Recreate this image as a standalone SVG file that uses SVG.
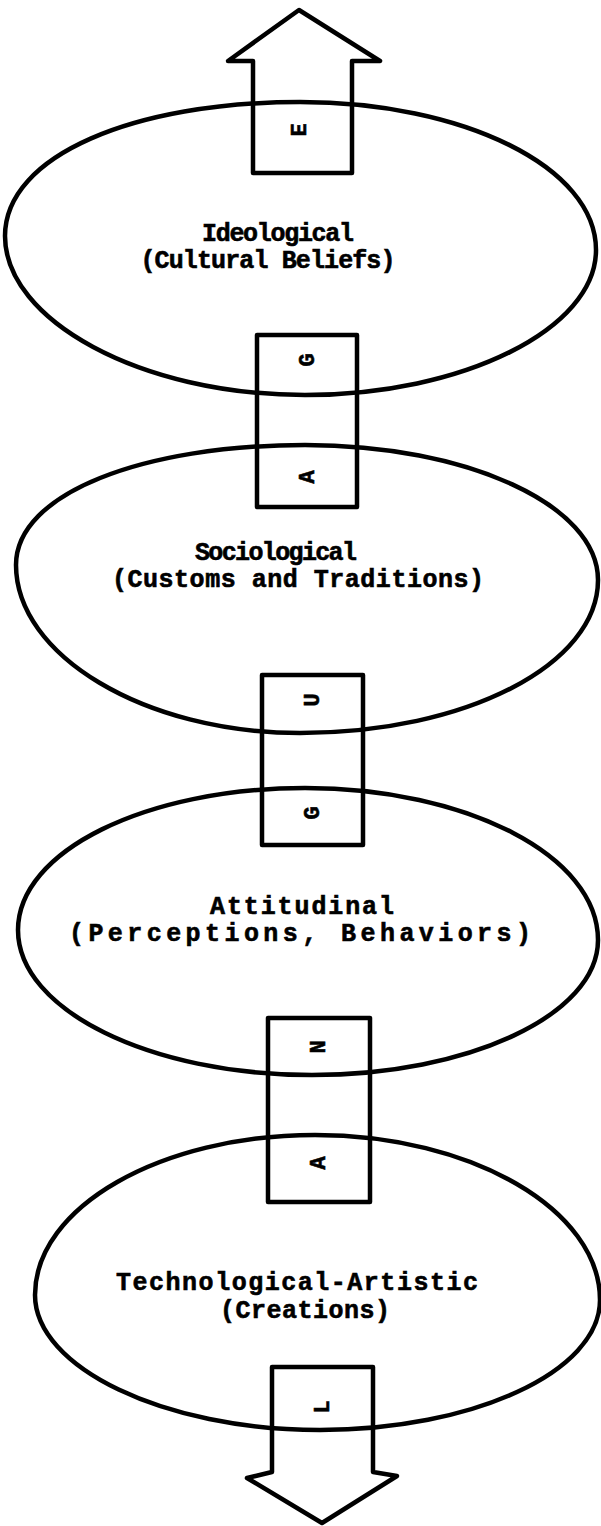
<svg xmlns="http://www.w3.org/2000/svg" width="601" height="1526" viewBox="0 0 601 1526">
<style>
.ln{fill:none;stroke:#000;stroke-width:4.5;stroke-linejoin:round;stroke-linecap:round}
.t{font-family:"Liberation Mono","DejaVu Sans Mono",monospace;font-weight:bold;font-size:25px;text-anchor:middle;fill:#000;stroke:#000;stroke-width:0.6}
.l{font-family:"Liberation Mono","DejaVu Sans Mono",monospace;font-weight:bold;font-size:22px;text-anchor:middle;fill:#000;stroke:#000;stroke-width:0.6}
</style>
<rect width="601" height="1526" fill="#fff"/>
<g id="connectors">
<path id="arrow-top" class="ln" d="M253,173 L253,61 L228,61 L299,10 L380,61 L352,61 L352,173 Z"/>
<rect id="box-ga" class="ln" x="257" y="335" width="100" height="172"/>
<rect id="box-ug" class="ln" x="262" y="675" width="101" height="170"/>
<rect id="box-na" class="ln" x="268" y="1018" width="102" height="184"/>
<path id="arrow-bottom" class="ln" d="M272,1367 L373,1367 L373,1472 L397,1476 L322,1523 L247,1478 L272,1472 Z"/>
</g>
<g id="node-ideological">
<path class="ln" d="M300,102 C463,102 596,167 596,250 C596,329 463,395 305,395 C140,395 5,320 5,236 C5,155 135,102 300,102 Z"/>
<text class="t" x="278" y="241" textLength="152" lengthAdjust="spacing">Ideological</text>
<text class="t" x="268" y="268" textLength="255" lengthAdjust="spacing">(Cultural Beliefs)</text>
</g>
<g id="node-sociological">
<path class="ln" d="M305,445 C467,445 598,505 598,580 C598,664 467,733 300,733 C144,733 16,655 16,565 C16,493 144,445 305,445 Z"/>
<text class="t" x="276" y="560" textLength="162" lengthAdjust="spacing">Sociological</text>
<text class="t" x="298" y="587" textLength="372" lengthAdjust="spacing">(Customs and Traditions)</text>
</g>
<g id="node-attitudinal">
<path class="ln" d="M305,788 C467,788 598,856 598,940 C598,1015 468,1075 312,1075 C150,1075 18,1010 18,930 C18,851 146,788 305,788 Z"/>
<text class="t" x="302" y="914" textLength="184" lengthAdjust="spacing">Attitudinal</text>
<text class="t" x="300" y="941" textLength="462" lengthAdjust="spacing">(Perceptions, Behaviors)</text>
</g>
<g id="node-technological">
<path class="ln" d="M315,1135 C472,1135 600,1210 600,1300 C600,1372 472,1430 320,1430 C163,1430 35,1367 35,1295 C35,1207 161,1135 315,1135 Z"/>
<text class="t" x="297" y="1290" textLength="362" lengthAdjust="spacing">Technological-Artistic</text>
<text class="t" x="305" y="1318" textLength="170" lengthAdjust="spacing">(Creations)</text>
</g>
<g id="letters">
<text class="l" transform="translate(299,130) rotate(-90)" dy="7">E</text>
<text class="l" transform="translate(307,360) rotate(-90)" dy="7">G</text>
<text class="l" transform="translate(307,477) rotate(-90)" dy="7">A</text>
<text class="l" transform="translate(312,700) rotate(-90)" dy="7">U</text>
<text class="l" transform="translate(312,813) rotate(-90)" dy="7">G</text>
<text class="l" transform="translate(318,1047) rotate(-90)" dy="7">N</text>
<text class="l" transform="translate(318,1163) rotate(-90)" dy="7">A</text>
<text class="l" transform="translate(322,1407) rotate(-90)" dy="7">L</text>
</g>
</svg>
